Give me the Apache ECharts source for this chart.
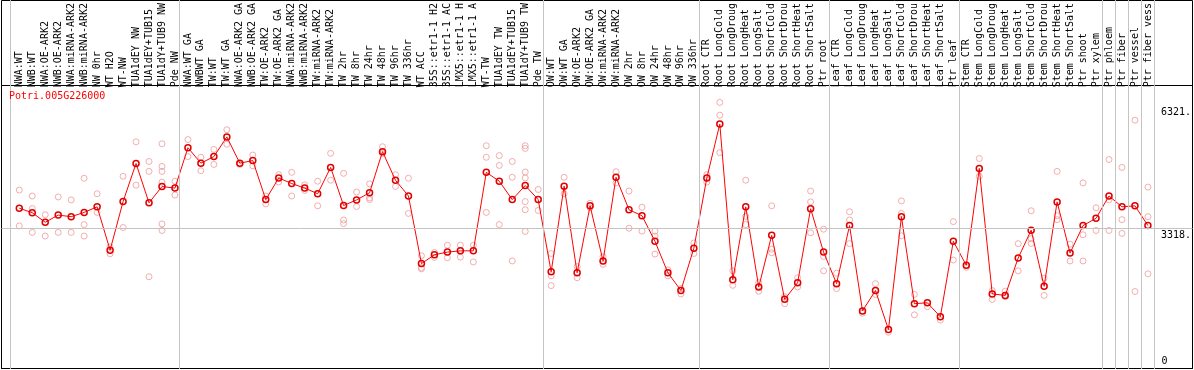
<!DOCTYPE html>
<html><head><meta charset="utf-8">
<script src="https://cdn.jsdelivr.net/npm/echarts@6/dist/echarts.min.js"></script>
<style>html,body{margin:0;padding:0;background:#fff}#c{width:1194px;height:370px}</style>
</head><body><div id="c"></div>
<script>
const geneId = 'Potri.005G226000';
const categories = [
 'NWA:WT','NWB:WT','NWA:OE-ARK2','NWB:OE-ARK2','NWA:miRNA-ARK2','NWB:miRNA-ARK2','NW 0hr','WT H2O','WT-NW','TUA1dEY NW','TUA1dEY+TUB15','TUA1dY+TUB9 NW','Pde NW',
 'NWA:WT GA','NWBWT GA','TW:WT','TW:WT GA','NWA:OE-ARK2 GA','NWB:OE-ARK2 GA','TW:OE-ARK2','TW:OE-ARK2 GA','NWA:miRNA-ARK2','NWB:miRNA-ARK2','TW:miRNA-ARK2','TW:miRNA-ARK2','TW 2hr','TW 8hr','TW 24hr','TW 48hr','TW 96hr','TW 336hr','WT ACC','35S::etr1-1 H2','35S::etr1-1 AC','LMX5::etr1-1 H','LMX5::etr1-1 A','WT-TW','TUA1dEY TW','TUA1dEY+TUB15','TUA1dY+TUB9 TW','Pde TW',
 'OW:WT','OW:WT GA','OW:OE-ARK2','OW:OE-ARK2 GA','OW:miRNA-ARK2','OW:miRNA-ARK2','OW 2hr','OW 8hr','OW 24hr','OW 48hr','OW 96hr','OW 336hr',
 'Root CTR','Root LongCold','Root LongDroug','Root LongHeat','Root LongSalt','Root ShortCold','Root ShortDrou','Root ShortHeat','Root ShortSalt','Ptr root',
 'Leaf CTR','Leaf LongCold','Leaf LongDroug','Leaf LongHeat','Leaf LongSalt','Leaf ShortCold','Leaf ShortDrou','Leaf ShortHeat','Leaf ShortSalt','Ptr leaf',
 'Stem CTR','Stem LongCold','Stem LongDroug','Stem LongHeat','Stem LongSalt','Stem ShortCold','Stem ShortDrou','Stem ShortHeat','Stem ShortSalt','Ptr shoot','Ptr xylem',
 'Ptr phloem','Ptr fiber','Ptr vessel','Ptr fiber vess'
];
const means = [
 3860,3749,3517,3692,3653,3757,3894,2837,4021,4951,3990,4389,4350,
 5335,4958,5119,5599,4958,5022,4069,4598,4461,4350,4213,4854,3925,4062,4237,5239,4542,4158,2508,2724,2789,2820,2820,4734,4518,4069,4413,4069,
 2308,4398,2284,3918,2573,4614,3822,3677,3053,2284,1852,2885,
 4598,5911,2116,3894,1938,3197,1636,2044,3846,2789,
 2020,3437,1355,1852,898,3653,1530,1554,1211,3053,
 2467,4830,1770,1732,2645,3324,1955,4014,2765,3437,3613,
 4158,3894,3918,3437
];
const replicates = [
 [4302,3428],[4158,3853,3269],[3701,3180],[4134,3269],[4062,3269],[4590,3461,3180],[4213,3757],[2916,2748],[4638,3389],[5479,4422],[4999,4758,2188],[5431,4879,4758,4494,3476,3317],[4518,4182],
 [5534,5119],[5102,4773],[5294,4927],[5774,5421],[4927],[5157,4893],[4158,3966],[4677,4501],[4734,4158],[4429,4293],[4518,3918],[5198,4542],[4710,3572,3485],[4254,3901],[4453,4110,4070],[5359,5190],[4677,4389],[4590,3733],[2700,2412,2380],[2779,2659],[2957,2652],[2957,2667],[2957,2549],[5383,5102,3757],[5143,4903,3461],[4999,4614,2573],[5383,5318,4742,4598,4021,3822,3293],[4317,3805],
 [2755,2212,1972],[4614,4213],[2436,2164],[3980,3870],[2676,2491],[4749,4477],[4278,3372],[3884,3300],[3300,3180,2741],[2356,2212],[1900,1770],[3012,2755],
 [4677,4494],[6440,6128,5215],[2332,1979],[4542,3661,3461],[2044,1835],[3918,2861,2772],[1700,1530],[2164,1938],[4278,4014,3260],[3348,2683,2332],
 [2275,1900],[3773,3572,2995],[1300],[2020,1756],[834],[4038,3733,3187],[1756,1259],[1458],[1131],[3533,2597],
 [2419],[5071,4638],[1850,1636],[1835,1700],[2995,2332],[3797,3116,3000],[2155,1732],[4758,3677,3580],[2981,2573],[4477,3212,2573],[3870,3317],
 [5047,4062,3317],[4854,3581,3245],[6007,1828],[4374,3653,2260]
];
const groupSizes = [13,28,12,10,10,11,1,1,1,1];
const yTickValues = [0,3318,6321];

// layout
const FONT = 'DejaVu Sans Mono';
const zeroY = 366.4, pxPerUnit = 0.041625;
function rangeFor(top, height){ return {min: -(top+height-zeroY)/pxPerUnit, max: (zeroY-top)/pxPerUnit}; }
const dataR = rangeFor(85, 284);
const frameR = rangeFor(85.5, 283);
const boundaries = [0];
groupSizes.forEach(s => boundaries.push(boundaries[boundaries.length-1] + s));
const repPoints = [];
replicates.forEach((arr, i) => arr.forEach(v => repPoints.push([i, v])));

const chart = echarts.init(document.getElementById('c'), null, {renderer:'canvas'});
const lblStyle = {fontFamily: FONT, fontSize: 10, color: '#000'};
chart.setOption({
  animation: false,
  title: {text: geneId, left: 9, top: 91, padding: 0, textStyle: {fontFamily: FONT, fontSize: 10, fontWeight: 'normal', color: '#ff0000'}},
  grid: [
    {left: 12.8, top: 85, width: 1144, height: 284},
    {left: 10.7, top: 0, width: 1144, height: 369},
    {left: 1.5, top: 85.5, width: 1191, height: 283, show: true, borderColor: '#000', borderWidth: 1},
    {left: 1.5, top: 0.5, width: 1191, height: 368, show: true, borderColor: '#000', borderWidth: 1}
  ],
  xAxis: [
    {gridIndex: 0, type: 'category', data: categories, position: 'top', boundaryGap: true,
     axisLine: {show: false}, axisTick: {show: false}, splitLine: {show: false},
     axisLabel: Object.assign({interval: 0, rotate: 90, margin: 2}, lblStyle)},
    {gridIndex: 1, type: 'value', min: 0, max: categories.length, show: false},
    {gridIndex: 2, type: 'value', min: 0, max: 1, show: false},
    {gridIndex: 3, type: 'value', min: 0, max: 1, show: false}
  ],
  yAxis: [
    {gridIndex: 0, type: 'value', position: 'right', min: dataR.min, max: dataR.max,
     axisLine: {show: false}, axisTick: {show: false}, splitLine: {show: false},
     axisLabel: Object.assign({customValues: yTickValues.slice(1), formatter: v => v + '.', verticalAlign: 'top', margin: 6.5}, lblStyle)},
    {gridIndex: 0, type: 'value', position: 'right', min: dataR.min, max: dataR.max,
     axisLine: {show: false}, axisTick: {show: false}, splitLine: {show: false},
     axisLabel: Object.assign({customValues: yTickValues.slice(0, 1), formatter: v => String(v), verticalAlign: 'bottom', margin: 7}, lblStyle)},
    {gridIndex: 1, type: 'value', min: 0, max: 1, show: false},
    {gridIndex: 2, type: 'value', min: frameR.min, max: frameR.max, show: false},
    {gridIndex: 3, type: 'value', min: 0, max: 1, show: false}
  ],
  series: [
    {type: 'line', xAxisIndex: 1, yAxisIndex: 2, data: [], silent: true, z: 1,
     markLine: {silent: true, symbol: ['none','none'], label: {show: false}, animation: false,
       lineStyle: {color: '#c4c4c4', type: 'solid', width: 1},
       data: boundaries.map(b => ({xAxis: b}))}},
    {type: 'line', xAxisIndex: 2, yAxisIndex: 3, data: [], silent: true, z: 1,
     markLine: {silent: true, symbol: ['none','none'], label: {show: false}, animation: false,
       lineStyle: {color: '#c4c4c4', type: 'solid', width: 1},
       data: [{yAxis: yTickValues[1]}]}},
    {type: 'scatter', xAxisIndex: 0, yAxisIndex: 0, data: repPoints, symbol: 'circle', symbolSize: 6, silent: true, z: 3,
     itemStyle: {color: 'rgba(0,0,0,0)', borderColor: '#ef9a9a', borderWidth: 1}},
    {type: 'line', xAxisIndex: 0, yAxisIndex: 0, data: means, symbol: 'circle', symbolSize: 6, showAllSymbol: true, silent: true, z: 4,
     lineStyle: {color: '#ff0000', width: 1},
     itemStyle: {color: 'rgba(0,0,0,0)', borderColor: '#e00000', borderWidth: 1.5}}
  ]
});
</script></body></html>
